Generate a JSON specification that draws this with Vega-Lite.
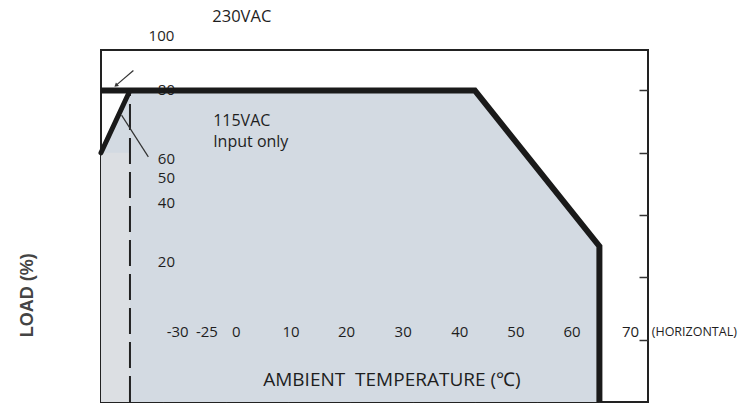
{
  "$schema": "https://vega.github.io/schema/vega-lite/v6.json",
  "width": 547,
  "height": 352,
  "autosize": "none",
  "padding": {"left": 101, "top": 50, "right": 93, "bottom": 1},
  "background": "white",
  "config": {
    "view": {"stroke": "#222222", "strokeWidth": 2},
    "font": "Open Sans"
  },
  "resolve": {"axis": {"y": "independent"}},
  "datasets": {
    "region": [
      {"t": -30, "load": 80},
      {"t": -25.35, "load": 100},
      {"t": 30, "load": 100},
      {"t": 50, "load": 50}
    ],
    "strip": [{"t1": -30, "t2": -25.35, "lo": 0, "hi": 80}],
    "v230": [
      {"t": -30, "load": 100, "o": 1},
      {"t": 30, "load": 100, "o": 2},
      {"t": 50, "load": 50, "o": 3},
      {"t": 50, "load": 0, "o": 4}
    ],
    "v115": [
      {"t": -30, "load": 80},
      {"t": -25.35, "load": 100}
    ],
    "dash": [{"t": -25.35, "lo": 0, "hi": 100}],
    "pointers": [
      {"p": "a", "t": -27.5, "load": 101.8},
      {"p": "a", "t": -24.8, "load": 106.4},
      {"p": "b", "t": -26.7, "load": 92.1},
      {"p": "b", "t": -22.4, "load": 78.7}
    ],
    "heads": [{"t": -27.6, "load": 101.6}],
    "under": [{"label": "80", "t": -19.5, "load": 100.2}],
    "sideNums": [
      {"label": "100", "t": -20.3, "load": 117.5},
      {"label": "60", "t": -19.5, "load": 77.9},
      {"label": "50", "t": -19.5, "load": 71.8},
      {"label": "40", "t": -19.5, "load": 64.0},
      {"label": "20", "t": -19.5, "load": 44.8}
    ],
    "rowNums": [
      {"label": "-30", "t": -17.7, "load": 22.6},
      {"label": "-25", "t": -13.0, "load": 22.6},
      {"label": "0", "t": -8.3, "load": 22.6},
      {"label": "10", "t": 0.5, "load": 22.6},
      {"label": "20", "t": 9.4, "load": 22.6},
      {"label": "30", "t": 18.5, "load": 22.6},
      {"label": "40", "t": 27.6, "load": 22.6},
      {"label": "50", "t": 36.6, "load": 22.6},
      {"label": "60", "t": 45.6, "load": 22.6},
      {"label": "70", "t": 55.0, "load": 22.6}
    ],
    "horiz": [{"label": "(HORIZONTAL)", "t": 58.4, "load": 22.6}],
    "top": [{"label": "230VAC", "t": -7.4, "load": 123.7}],
    "leftText": [
      {"label": "115VAC", "t": -12.0, "load": 90.3},
      {"label": "Input only", "t": -12.0, "load": 83.4}
    ],
    "xtitle": [{"label": "AMBIENT\u00a0 TEMPERATURE (℃)", "t": 16.7, "load": 7.06}],
    "ytitle": [{"label": "LOAD (%)", "t": -41.7, "load": 34.3}]
  },
  "layer": [
    {
      "data": {"name": "region"},
      "mark": {"type": "area", "color": "#d3dae2", "opacity": 1},
      "encoding": {
        "x": {
          "field": "t", "type": "quantitative",
          "scale": {"domain": [-30, 57.8], "nice": false, "zero": false},
          "axis": {"values": [-20, -10, 0, 10, 20, 30, 40, 50], "labels": false, "domain": false, "grid": false, "tickSize": -5, "tickColor": "#333333", "tickWidth": 1.5, "title": null}
        },
        "y": {
          "field": "load", "type": "quantitative",
          "scale": {"domain": [0, 113], "nice": false, "zero": true},
          "axis": {"values": [20, 40, 50, 60], "labels": false, "domain": false, "grid": false, "tickSize": -8, "tickColor": "#333333", "tickWidth": 1.5, "title": null}
        }
      }
    },
    {
      "data": {"name": "strip"},
      "mark": {"type": "rect", "color": "#dcdfe3"},
      "encoding": {
        "x": {"field": "t1", "type": "quantitative"},
        "x2": {"field": "t2"},
        "y": {"field": "lo", "type": "quantitative", "axis": null},
        "y2": {"field": "hi"}
      }
    },
    {
      "data": {"name": "dash"},
      "mark": {"type": "rule", "color": "#222222", "strokeWidth": 2, "strokeDash": [26, 8]},
      "encoding": {
        "x": {"field": "t", "type": "quantitative"},
        "y": {"field": "lo", "type": "quantitative", "axis": null},
        "y2": {"field": "hi"}
      }
    },
    {
      "data": {"name": "under"},
      "mark": {"type": "text", "fontSize": 15, "color": "#1e1e1e", "align": "center", "baseline": "middle"},
      "encoding": {
        "x": {"field": "t", "type": "quantitative"},
        "y": {"field": "load", "type": "quantitative", "axis": null},
        "text": {"field": "label"}
      }
    },
    {
      "data": {"name": "v230"},
      "mark": {"type": "line", "color": "#1a1a1a", "strokeWidth": 6, "strokeJoin": "miter", "strokeCap": "butt"},
      "encoding": {
        "x": {"field": "t", "type": "quantitative"},
        "y": {
          "field": "load", "type": "quantitative",
          "axis": {"orient": "right", "values": [20, 40, 60, 80, 100], "labels": false, "domain": false, "grid": false, "tickSize": -9, "tickColor": "#333333", "tickWidth": 1.5, "title": null}
        },
        "order": {"field": "o"}
      }
    },
    {
      "data": {"name": "v115"},
      "mark": {"type": "line", "color": "#1a1a1a", "strokeWidth": 5, "strokeCap": "round"},
      "encoding": {
        "x": {"field": "t", "type": "quantitative"},
        "y": {"field": "load", "type": "quantitative", "axis": null}
      }
    },
    {
      "data": {"name": "pointers"},
      "mark": {"type": "line", "color": "#333333", "strokeWidth": 1.2},
      "encoding": {
        "x": {"field": "t", "type": "quantitative"},
        "y": {"field": "load", "type": "quantitative", "axis": null},
        "detail": {"field": "p"}
      }
    },
    {
      "data": {"name": "heads"},
      "mark": {"type": "point", "shape": "triangle-up", "filled": true, "color": "#333333", "size": 22, "angle": 229, "opacity": 1},
      "encoding": {
        "x": {"field": "t", "type": "quantitative"},
        "y": {"field": "load", "type": "quantitative", "axis": null}
      }
    },
    {
      "data": {"name": "sideNums"},
      "mark": {"type": "text", "fontSize": 15, "color": "#1e1e1e", "align": "center", "baseline": "middle"},
      "encoding": {
        "x": {"field": "t", "type": "quantitative"},
        "y": {"field": "load", "type": "quantitative", "axis": null},
        "text": {"field": "label"}
      }
    },
    {
      "data": {"name": "rowNums"},
      "mark": {"type": "text", "fontSize": 15, "color": "#1e1e1e", "align": "center", "baseline": "middle"},
      "encoding": {
        "x": {"field": "t", "type": "quantitative"},
        "y": {"field": "load", "type": "quantitative", "axis": null},
        "text": {"field": "label"}
      }
    },
    {
      "data": {"name": "horiz"},
      "mark": {"type": "text", "fontSize": 12.5, "color": "#1e1e1e", "align": "left", "baseline": "middle"},
      "encoding": {
        "x": {"field": "t", "type": "quantitative"},
        "y": {"field": "load", "type": "quantitative", "axis": null},
        "text": {"field": "label"}
      }
    },
    {
      "data": {"name": "top"},
      "mark": {"type": "text", "fontSize": 16.5, "color": "#1e1e1e", "align": "center", "baseline": "middle"},
      "encoding": {
        "x": {"field": "t", "type": "quantitative"},
        "y": {"field": "load", "type": "quantitative", "axis": null},
        "text": {"field": "label"}
      }
    },
    {
      "data": {"name": "leftText"},
      "mark": {"type": "text", "fontSize": 16, "color": "#1e1e1e", "align": "left", "baseline": "middle"},
      "encoding": {
        "x": {"field": "t", "type": "quantitative"},
        "y": {"field": "load", "type": "quantitative", "axis": null},
        "text": {"field": "label"}
      }
    },
    {
      "data": {"name": "xtitle"},
      "mark": {"type": "text", "fontSize": 19, "color": "#1e1e1e", "align": "center", "baseline": "middle"},
      "encoding": {
        "x": {"field": "t", "type": "quantitative"},
        "y": {"field": "load", "type": "quantitative", "axis": null},
        "text": {"field": "label"}
      }
    },
    {
      "data": {"name": "ytitle"},
      "mark": {"type": "text", "font": "Liberation Sans", "fontWeight": "bold", "fontSize": 18, "color": "#444444", "align": "center", "baseline": "middle", "angle": 270},
      "encoding": {
        "x": {"field": "t", "type": "quantitative"},
        "y": {"field": "load", "type": "quantitative", "axis": null},
        "text": {"field": "label"}
      }
    }
  ]
}
